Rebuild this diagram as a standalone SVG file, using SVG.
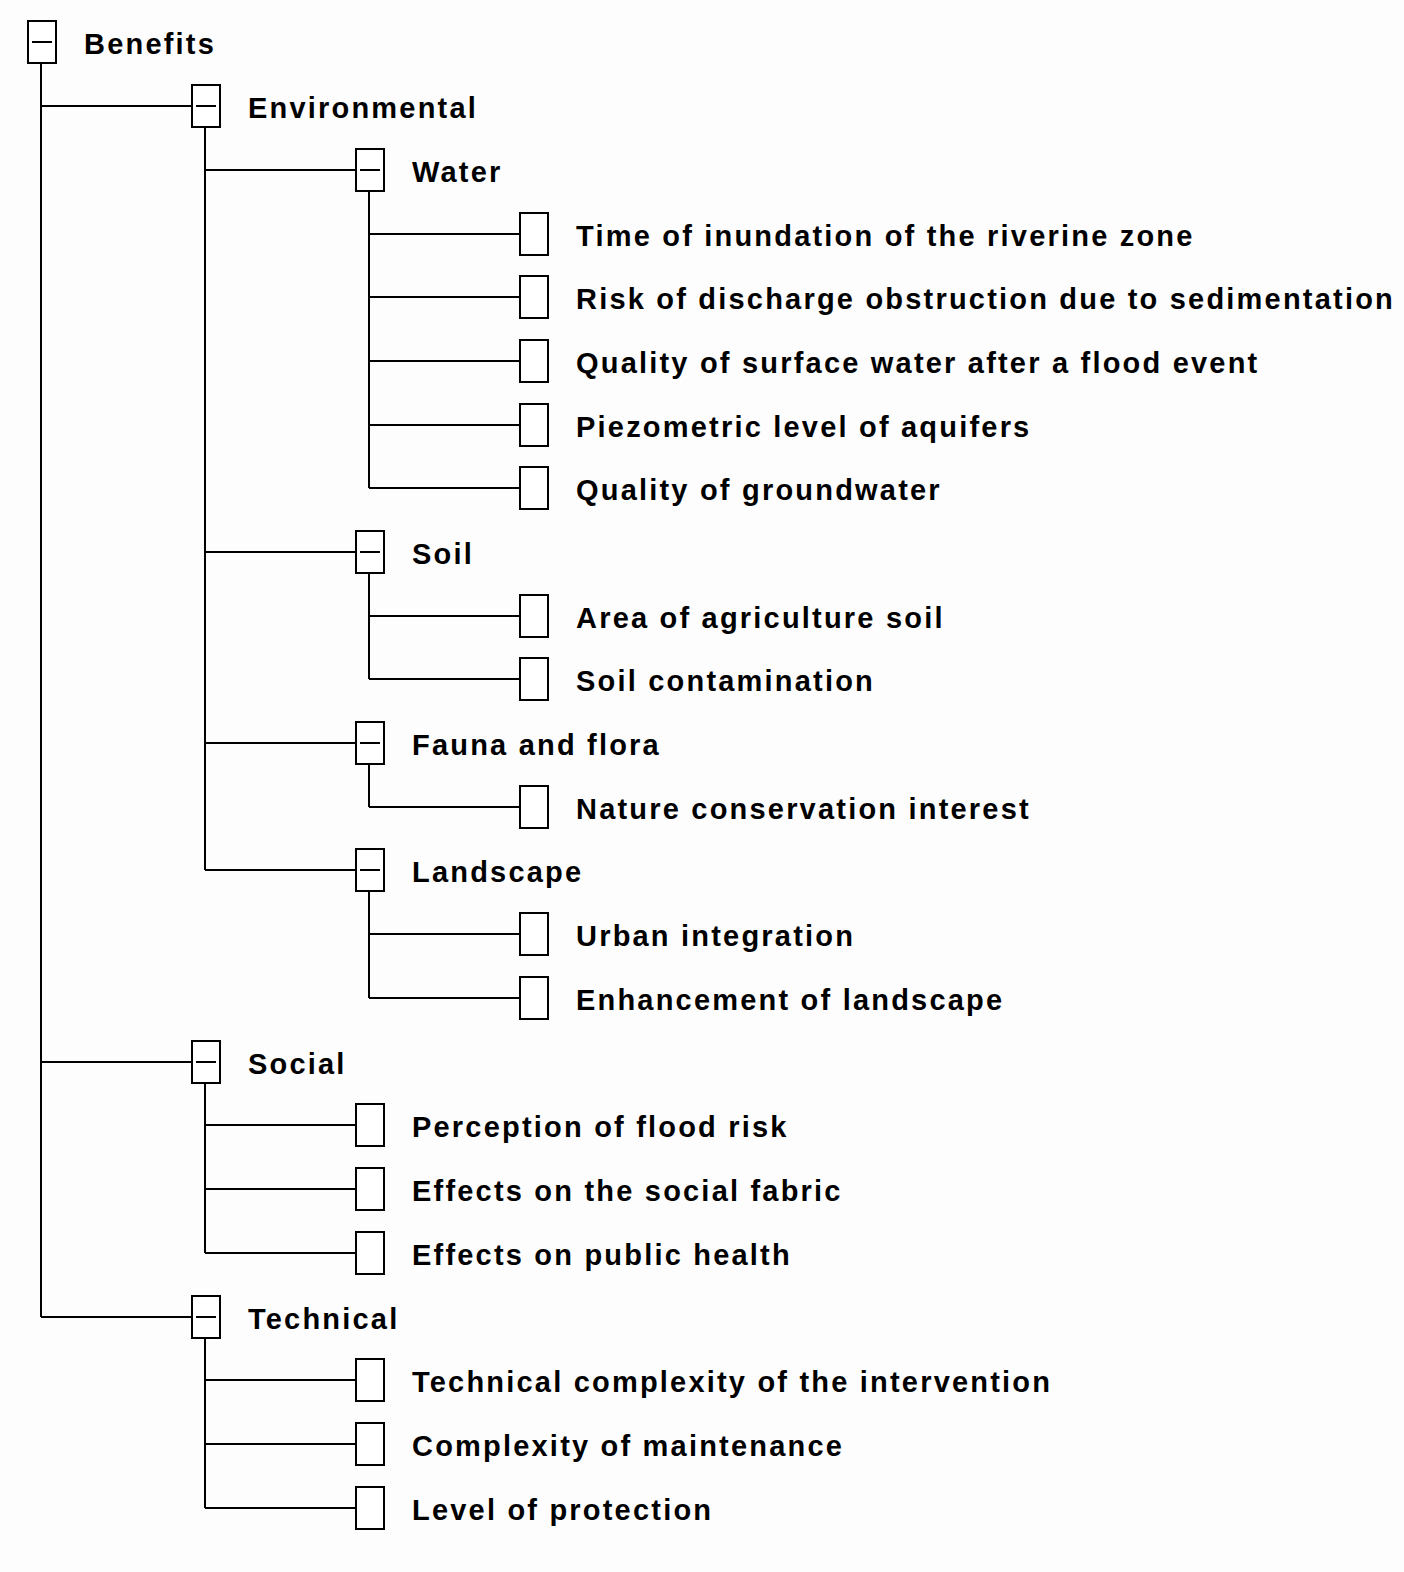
<svg xmlns="http://www.w3.org/2000/svg" width="1404" height="1572" viewBox="0 0 1404 1572">
<style>
.b{fill:#fff;stroke:#000;stroke-width:2}
.m{stroke:#000;stroke-width:2}
.c line{stroke:#000;stroke-width:2}
text{font-family:"Liberation Sans",Arial,sans-serif;font-size:29px;font-weight:bold;letter-spacing:2.2px;fill:#000}
</style>
<rect width="1404" height="1572" fill="#fdfdfd"/>
<g class="c">
<line x1="41" y1="63" x2="41" y2="1317"/>
<line x1="41" y1="106" x2="192" y2="106"/><line x1="41" y1="1062" x2="192" y2="1062"/><line x1="41" y1="1317" x2="192" y2="1317"/>
<line x1="205" y1="127" x2="205" y2="870"/>
<line x1="205" y1="170" x2="356" y2="170"/><line x1="205" y1="552" x2="356" y2="552"/><line x1="205" y1="743" x2="356" y2="743"/><line x1="205" y1="870" x2="356" y2="870"/>
<line x1="369" y1="191" x2="369" y2="488"/>
<line x1="369" y1="234" x2="520" y2="234"/><line x1="369" y1="297" x2="520" y2="297"/><line x1="369" y1="361" x2="520" y2="361"/><line x1="369" y1="425" x2="520" y2="425"/><line x1="369" y1="488" x2="520" y2="488"/>
<line x1="369" y1="573" x2="369" y2="679"/>
<line x1="369" y1="616" x2="520" y2="616"/><line x1="369" y1="679" x2="520" y2="679"/>
<line x1="369" y1="764" x2="369" y2="807"/>
<line x1="369" y1="807" x2="520" y2="807"/>
<line x1="369" y1="891" x2="369" y2="998"/>
<line x1="369" y1="934" x2="520" y2="934"/><line x1="369" y1="998" x2="520" y2="998"/>
<line x1="205" y1="1083" x2="205" y2="1253"/>
<line x1="205" y1="1125" x2="356" y2="1125"/><line x1="205" y1="1189" x2="356" y2="1189"/><line x1="205" y1="1253" x2="356" y2="1253"/>
<line x1="205" y1="1338" x2="205" y2="1508"/>
<line x1="205" y1="1380" x2="356" y2="1380"/><line x1="205" y1="1444" x2="356" y2="1444"/><line x1="205" y1="1508" x2="356" y2="1508"/>
</g>
<g id="n0"><rect class="b" x="28" y="21" width="28" height="42"/><line class="m" x1="32" y1="42" x2="52" y2="42"/><text x="84" y="54">Benefits</text></g>
<g id="n1"><rect class="b" x="192" y="85" width="28" height="42"/><line class="m" x1="196" y1="106" x2="216" y2="106"/><text x="248" y="118">Environmental</text></g>
<g id="n2"><rect class="b" x="356" y="149" width="28" height="42"/><line class="m" x1="360" y1="170" x2="380" y2="170"/><text x="412" y="182">Water</text></g>
<g id="n3"><rect class="b" x="520" y="213" width="28" height="42"/><text x="576" y="246">Time of inundation of the riverine zone</text></g>
<g id="n4"><rect class="b" x="520" y="276" width="28" height="42"/><text x="576" y="309">Risk of discharge obstruction due to sedimentation</text></g>
<g id="n5"><rect class="b" x="520" y="340" width="28" height="42"/><text x="576" y="373">Quality of surface water after a flood event</text></g>
<g id="n6"><rect class="b" x="520" y="404" width="28" height="42"/><text x="576" y="437">Piezometric level of aquifers</text></g>
<g id="n7"><rect class="b" x="520" y="467" width="28" height="42"/><text x="576" y="500">Quality of groundwater</text></g>
<g id="n8"><rect class="b" x="356" y="531" width="28" height="42"/><line class="m" x1="360" y1="552" x2="380" y2="552"/><text x="412" y="564">Soil</text></g>
<g id="n9"><rect class="b" x="520" y="595" width="28" height="42"/><text x="576" y="628">Area of agriculture soil</text></g>
<g id="n10"><rect class="b" x="520" y="658" width="28" height="42"/><text x="576" y="691">Soil contamination</text></g>
<g id="n11"><rect class="b" x="356" y="722" width="28" height="42"/><line class="m" x1="360" y1="743" x2="380" y2="743"/><text x="412" y="755">Fauna and flora</text></g>
<g id="n12"><rect class="b" x="520" y="786" width="28" height="42"/><text x="576" y="819">Nature conservation interest</text></g>
<g id="n13"><rect class="b" x="356" y="849" width="28" height="42"/><line class="m" x1="360" y1="870" x2="380" y2="870"/><text x="412" y="882">Landscape</text></g>
<g id="n14"><rect class="b" x="520" y="913" width="28" height="42"/><text x="576" y="946">Urban integration</text></g>
<g id="n15"><rect class="b" x="520" y="977" width="28" height="42"/><text x="576" y="1010">Enhancement of landscape</text></g>
<g id="n16"><rect class="b" x="192" y="1041" width="28" height="42"/><line class="m" x1="196" y1="1062" x2="216" y2="1062"/><text x="248" y="1074">Social</text></g>
<g id="n17"><rect class="b" x="356" y="1104" width="28" height="42"/><text x="412" y="1137">Perception of flood risk</text></g>
<g id="n18"><rect class="b" x="356" y="1168" width="28" height="42"/><text x="412" y="1201">Effects on the social fabric</text></g>
<g id="n19"><rect class="b" x="356" y="1232" width="28" height="42"/><text x="412" y="1265">Effects on public health</text></g>
<g id="n20"><rect class="b" x="192" y="1296" width="28" height="42"/><line class="m" x1="196" y1="1317" x2="216" y2="1317"/><text x="248" y="1329">Technical</text></g>
<g id="n21"><rect class="b" x="356" y="1359" width="28" height="42"/><text x="412" y="1392">Technical complexity of the intervention</text></g>
<g id="n22"><rect class="b" x="356" y="1423" width="28" height="42"/><text x="412" y="1456">Complexity of maintenance</text></g>
<g id="n23"><rect class="b" x="356" y="1487" width="28" height="42"/><text x="412" y="1520">Level of protection</text></g>
</svg>
